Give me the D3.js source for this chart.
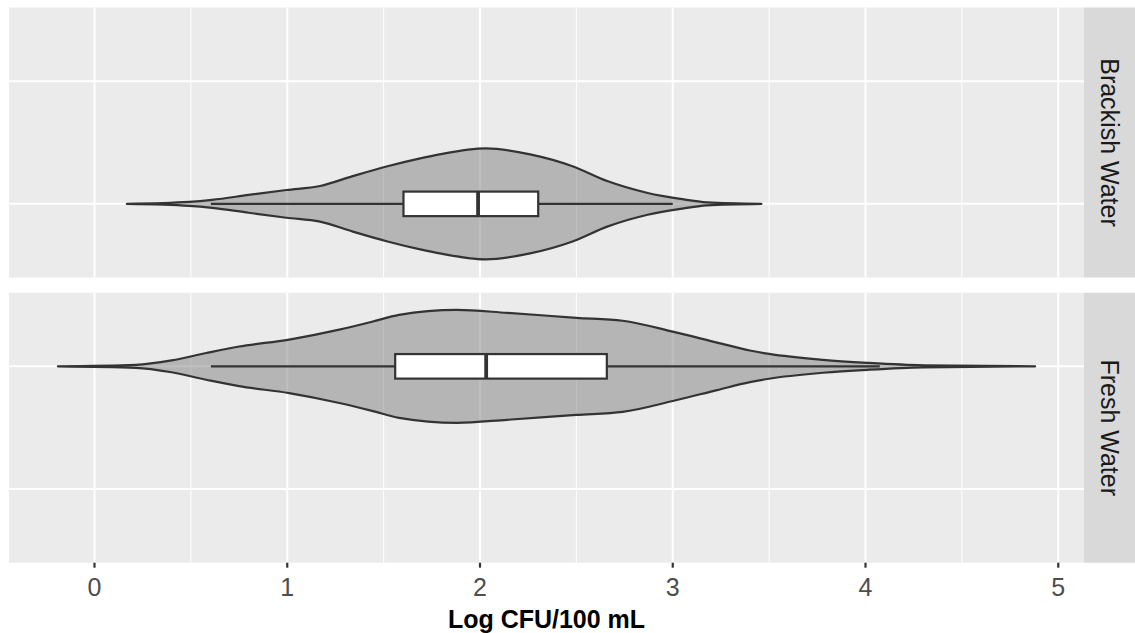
<!DOCTYPE html>
<html>
<head>
<meta charset="utf-8">
<script src="https://cdn.jsdelivr.net/npm/d3@7"></script>
<style>
  body { margin: 0; background: #fff; }
  text { font-family: "Liberation Sans", Arial, sans-serif; }
</style>
</head>
<body>
<div id="chart"></div>
<script>
(function(){
  var width = 1135;
  var height = 633;

  // facet rows (top to bottom) and the y levels
  var facets = ['Brackish Water', 'Fresh Water'];
  var levels = ['Fresh Water', 'Brackish Water'];   // top to bottom inside a panel
  var xTicks = [0, 1, 2, 3, 4, 5];
  var xMinor = [0.5, 1.5, 2.5, 3.5, 4.5];

  // violin outlines: position and relative density
  var brackishX = [0.168, 0.49, 0.61, 0.80, 0.996, 1.17, 1.34, 1.52, 1.69, 1.79, 2.03, 2.26, 2.48, 2.66, 2.87, 3.04, 3.18, 3.46];
  var brackishD = [0, 2, 4, 9, 14, 18, 28, 38, 46, 50, 56, 50, 38, 23, 11, 5, 1.5, 0];
  var freshX = [-0.19, 0.215, 0.40, 0.58, 0.75, 1.01, 1.27, 1.44, 1.58, 1.88, 2.14, 2.50, 2.74, 3.00, 3.23, 3.40, 3.50, 3.78, 4.01, 4.30, 4.88];
  var freshD = [0, 1.5, 6, 13.5, 20, 27, 37, 45, 52, 57, 54, 49, 46, 35, 24, 16, 12.5, 6.5, 3.5, 1, 0];

  // box stats: whisker low, lower hinge, median, upper hinge, whisker high
  var brackishBox = [0.604, 1.603, 1.99, 2.302, 3.0];
  var freshBox = [0.604, 1.56, 2.032, 2.658, 4.074];

  var groups = [
    {facet: 'Brackish Water', xs: brackishX, ds: brackishD, box: brackishBox},
    {facet: 'Fresh Water', xs: freshX, ds: freshD, box: freshBox}
  ];

  var panelLeft = 9, panelRight = 1084, stripW = 51;
  var panelTops = [7.5, 292.7], panelH = 270;
  var lw = 2.2, ink = '#333';

  var allX = brackishX.concat(freshX);
  var lo = d3.min(allX), hi = d3.max(allX), pad = (hi - lo) * 0.05;
  var x = d3.scaleLinear().domain([lo - pad, hi + pad]).range([panelLeft, panelRight]);

  var svg = d3.select('#chart').append('svg')
    .attr('width', width)
    .attr('height', height);

  var maxD = d3.max(brackishD.concat(freshD));

  groups.forEach(function(g, i){
    var top = panelTops[i];
    var y = d3.scalePoint().domain(levels).range([top, top + panelH]).padding(0.6);
    var step = y.step();
    var w = d3.scaleLinear().domain([0, maxD]).range([0, 0.46 * step]);
    var cy = y(g.facet);

    var p = svg.append('g');
    p.append('rect')
      .attr('x', panelLeft).attr('y', top)
      .attr('width', panelRight - panelLeft).attr('height', panelH)
      .attr('fill', '#ebebeb');

    // grid
    p.selectAll('.minor').data(xMinor).enter().append('line')
      .attr('x1', x).attr('x2', x)
      .attr('y1', top).attr('y2', top + panelH)
      .attr('stroke', '#fff').attr('stroke-width', 1);
    p.selectAll('.majorx').data(xTicks).enter().append('line')
      .attr('x1', x).attr('x2', x)
      .attr('y1', top).attr('y2', top + panelH)
      .attr('stroke', '#fff').attr('stroke-width', 2);
    p.selectAll('.majory').data(levels).enter().append('line')
      .attr('x1', panelLeft).attr('x2', panelRight)
      .attr('y1', y).attr('y2', y)
      .attr('stroke', '#fff').attr('stroke-width', 2);

    // violin
    var pts = g.xs.map(function(v, k){ return [v, g.ds[k]]; });
    var area = d3.area()
      .x(function(d){ return x(d[0]); })
      .y0(function(d){ return cy + w(d[1]); })
      .y1(function(d){ return cy - w(d[1]); })
      .curve(d3.curveMonotoneX);
    p.append('path')
      .attr('d', area(pts))
      .attr('fill', '#7f7f7f').attr('fill-opacity', 0.5)
      .attr('stroke', ink).attr('stroke-width', lw)
      .attr('stroke-linejoin', 'round');

    // box
    var b = g.box, bh = 0.2 * step / 2;
    p.append('line')
      .attr('x1', x(b[0])).attr('x2', x(b[1]))
      .attr('y1', cy).attr('y2', cy)
      .attr('stroke', ink).attr('stroke-width', lw);
    p.append('line')
      .attr('x1', x(b[3])).attr('x2', x(b[4]))
      .attr('y1', cy).attr('y2', cy)
      .attr('stroke', ink).attr('stroke-width', lw);
    p.append('rect')
      .attr('x', x(b[1])).attr('y', cy - bh)
      .attr('width', x(b[3]) - x(b[1])).attr('height', 2 * bh)
      .attr('fill', '#fff').attr('stroke', ink).attr('stroke-width', lw);
    p.append('line')
      .attr('x1', x(b[2])).attr('x2', x(b[2]))
      .attr('y1', cy - bh).attr('y2', cy + bh)
      .attr('stroke', ink).attr('stroke-width', 3.8);

    // strip
    p.append('rect')
      .attr('x', panelRight).attr('y', top)
      .attr('width', stripW).attr('height', panelH)
      .attr('fill', '#d9d9d9');
    p.append('text')
      .attr('transform', 'translate(' + (panelRight + stripW / 2) + ',' + (top + panelH / 2) + ') rotate(90)')
      .attr('text-anchor', 'middle')
      .attr('dominant-baseline', 'central')
      .attr('font-size', '25px')
      .attr('fill', '#1a1a1a')
      .text(g.facet);
  });

  // x axis
  var axisY = panelTops[1] + panelH;
  svg.selectAll('.tick').data(xTicks).enter().append('line')
    .attr('x1', x).attr('x2', x)
    .attr('y1', axisY).attr('y2', axisY + 5)
    .attr('stroke', ink).attr('stroke-width', 2.2);
  svg.selectAll('.ticklab').data(xTicks).enter().append('text')
    .attr('x', x).attr('y', 596)
    .attr('text-anchor', 'middle')
    .attr('font-size', '25px')
    .attr('fill', '#4d4d4d')
    .text(function(d){ return d; });

  svg.append('text')
    .attr('x', (panelLeft + panelRight) / 2).attr('y', 628)
    .attr('text-anchor', 'middle')
    .attr('font-size', '25px')
    .attr('font-weight', 'bold')
    .attr('fill', '#000')
    .text('Log CFU/100 mL');
})();
</script>
</body>
</html>
